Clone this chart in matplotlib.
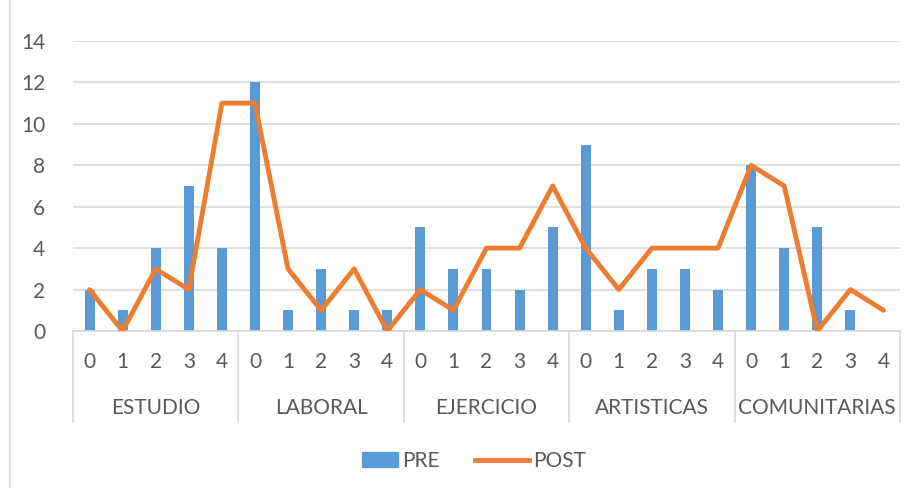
import numpy as np
import matplotlib
matplotlib.use("Agg")
import matplotlib.pyplot as plt
from matplotlib.patches import Patch, Rectangle
from matplotlib.lines import Line2D
from matplotlib.legend_handler import HandlerPatch

groups = ["ESTUDIO", "LABORAL", "EJERCICIO", "ARTISTICAS", "COMUNITARIAS"]
levels = ["0", "1", "2", "3", "4"]

pre = [2, 1, 4, 7, 4,
       12, 1, 3, 1, 1,
       5, 3, 3, 2, 5,
       9, 1, 3, 3, 2,
       8, 4, 5, 1, 0]
post = [2, 0, 3, 2, 11,
        11, 3, 1, 3, 0,
        2, 1, 4, 4, 7,
        4, 2, 4, 4, 4,
        8, 7, 0, 2, 1]

BLUE = "#5B9BD5"
ORANGE = "#ED7D31"
GRID = "#D9D9D9"
TXT = "#595959"
FS = 15

plt.rcParams["font.family"] = ["Lato", "DejaVu Sans"]

fig = plt.figure(figsize=(9.14, 4.88), dpi=100)
ax = fig.add_axes([73 / 914, 1 - 331 / 488, 827 / 914, 290 / 488])

x = np.arange(len(pre))
ax.bar(x, pre, width=0.3, color=BLUE, zorder=2)
ax.plot(x, post, color=ORANGE, linewidth=3.5, solid_joinstyle="round",
        solid_capstyle="round", zorder=3)

ax.set_xlim(-0.5, len(pre) - 0.5)
ax.set_ylim(0, 14)
ax.set_yticks(range(0, 15, 2))
ax.yaxis.grid(True, color=GRID, linewidth=1.2)
ax.set_axisbelow(True)
for s in ["top", "right", "left"]:
    ax.spines[s].set_visible(False)
ax.spines["bottom"].set_color(GRID)
ax.spines["bottom"].set_linewidth(1.2)
ax.tick_params(axis="y", length=0, pad=20, labelsize=FS, labelcolor=TXT)
ax.set_xticks([])

# etiquetas de dos niveles bajo el eje
xt = ax.get_xaxis_transform()
for i in range(len(pre)):
    ax.text(i, -0.107, levels[i % 5], transform=xt, ha="center", va="center",
            fontsize=FS, color=TXT)
for g, name in enumerate(groups):
    ax.text(g * 5 + 2, -0.266, name, transform=xt, ha="center", va="center",
            fontsize=FS, color=TXT)
for k in range(len(groups) + 1):
    ax.plot([k * 5 - 0.5] * 2, [0, -0.314], transform=xt, color=GRID,
            linewidth=1.2, clip_on=False)

# borde izquierdo del área del gráfico
fig.add_artist(Line2D([10 / 914] * 2, [0, 1], color=GRID, linewidth=1.2))


def short_box(legend, orig_handle, xdescent, ydescent, width, height, fontsize):
    w = 26
    return Rectangle((-xdescent + width - w, -ydescent), w, height)


handles = [Patch(facecolor=BLUE, edgecolor=BLUE),
           Line2D([0], [0], color=ORANGE, linewidth=3.5)]
fig.legend(handles, ["PRE", "POST"], loc="center", bbox_to_anchor=(0.509, 1 - 461 / 488),
           ncol=2, frameon=False, fontsize=FS, labelcolor=TXT,
           handlelength=2.6, handletextpad=0.2, columnspacing=1.7,
           handler_map={Patch: HandlerPatch(patch_func=short_box)})

fig.savefig("out.png", dpi=100)
